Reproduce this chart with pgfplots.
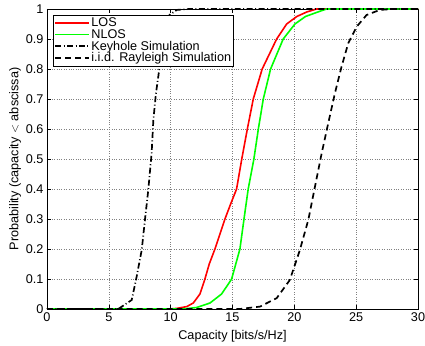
\documentclass[border=0pt]{standalone}
\usepackage{fontspec}
\setmainfont{Liberation Sans}
\usepackage{pgfplots}
\pgfplotsset{compat=1.18}
\begin{document}
\begin{tikzpicture}
\begin{axis}[
  name=ax,
  scale only axis,
  width=371bp, height=300bp,
  xmin=0, xmax=30, ymin=0, ymax=1,
  xtick={0,5,...,30},
  ytick={0,0.1,...,1},
  yticklabels={0,0.1,0.2,0.3,0.4,0.5,0.6,0.7,0.8,0.9,1},
  tick align=inside,
  major tick length=4bp,
  tick style={black, line width=0.5pt},
  axis line style={black, line width=0.8pt},
  grid=major,
  major grid style={gray, dotted, line width=0.5pt},
  /pgf/number format/assume math mode=true,
  tick label style={font=\fontsize{12.7}{14}\selectfont},
  xlabel={Capacity [bits/s/Hz]},
  ylabel={Probability (capacity $<$ abscissa)},
  every axis x label/.style={at={(axis description cs:0.5,-0.09)}, anchor=center, font=\fontsize{12.7}{14}\selectfont},
  every axis y label/.style={at={(axis description cs:-0.0863,0.5)}, rotate=90, anchor=center, font=\fontsize{12.7}{14}\selectfont},
  legend cell align=left,
  legend style={at={(0.016,0.98)}, anchor=north west, draw=black, line width=0.6pt,
    font=\fontsize{12.7}{14}\selectfont, inner sep=1pt, row sep=-1.8pt,
    nodes={inner sep=1.5pt}},
  legend image code/.code={\draw[mark repeat=2,mark phase=2,#1] plot coordinates {(0bp,0bp) (17bp,0bp) (34bp,0bp)};},
]
\addplot[red, line width=1.6pt] coordinates {
(0,0) (9.9,0) (10.5,0.002) (11.3,0.008) (11.83,0.02) (12.37,0.05) (12.77,0.1) (13.12,0.15)
(13.58,0.2) (14.39,0.3) (14.85,0.35) (15.33,0.4) (15.75,0.5) (16.2,0.6) (16.68,0.7)
(17.4,0.8) (18.57,0.9) (19.38,0.95) (20.2,0.975) (21.0,0.99) (21.8,1) (30,1)};
\addlegendentry{LOS}
\addplot[green, line width=1.6pt] coordinates {
(0,0) (11,0) (12.1,0.005) (13.18,0.02) (14.12,0.05) (14.93,0.1) (15.6,0.2)
(15.93,0.3) (16.27,0.4) (16.73,0.5) (17.09,0.6) (17.49,0.7) (18.08,0.8) (19.1,0.9)
(20.05,0.95) (20.9,0.975) (21.9,0.99) (22.6,1) (30,1)};
\addlegendentry{NLOS}
\addplot[black, line width=1.7pt, dash pattern=on 6pt off 2.5pt on 1pt off 2.5pt] coordinates {
(0,0) (5.76,0) (6.85,0.03) (7.25,0.108) (7.66,0.197) (7.92,0.297) (8.19,0.397)
(8.46,0.519) (8.6,0.63) (8.81,0.719) (9.0,0.775) (9.3,0.87) (9.6,0.94) (9.9,0.98)
(10.5,0.997) (11.5,1) (30,1)};
\addlegendentry{Keyhole Simulation}
\addplot[black, line width=1.7pt, dash pattern=on 6pt off 4pt] coordinates {
(0,0) (15.6,0) (17.22,0.008) (18.57,0.036) (19.64,0.097) (20.45,0.197) (21.13,0.297)
(21.67,0.408) (22.21,0.519) (22.74,0.619) (23.28,0.719) (23.82,0.808) (24.36,0.886)
(25.04,0.941) (25.84,0.98) (26.92,0.997) (28,1) (30,1)};
\addlegendentry{i.i.d. Rayleigh Simulation}
\end{axis}
\path (ax.south west) ++(-47bp,-37bp) coordinate (bbA);
\path (ax.north east) ++(7bp,9bp) coordinate (bbB);
\pgfresetboundingbox
\path (bbA) rectangle (bbB);
\end{tikzpicture}
\end{document}
